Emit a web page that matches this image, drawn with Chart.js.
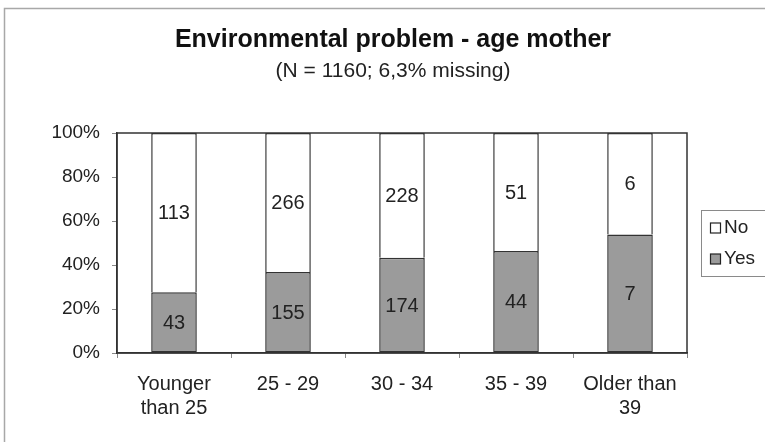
<!DOCTYPE html>
<html>
<head>
<meta charset="utf-8">
<script src="https://cdn.jsdelivr.net/npm/chart.js@4/dist/chart.umd.min.js"></script>
<style>
  html, body { margin: 0; padding: 0; background: #fff; }
  #wrap { width: 765px; height: 442px; position: relative; }
</style>
</head>
<body>
<div id="wrap"><canvas id="c" width="765" height="442"></canvas></div>
<script>
// Age groups of the mother
const categories = [["Younger", "than 25"], "25 - 29", "30 - 34", "35 - 39", ["Older than", "39"]];
// Number of respondents reporting an environmental problem
const yesCounts = [43, 155, 174, 44, 7];
const noCounts = [113, 266, 228, 51, 6];
// Percentage axis ticks
const yTicks = [0, 20, 40, 60, 80, 100];

const seriesNames = ["Yes", "No"];
const titleText = 'Environmental problem - age mother';
const subtitleText = '(N = 1160; 6,3% missing)';
const FONT = "'Liberation Sans', Arial, sans-serif";

// 100% stacked shares derived from the counts
const totals = yesCounts.map((v, i) => v + noCounts[i]);
const yesPct = yesCounts.map((v, i) => v / totals[i] * 100);
const noPct = noCounts.map((v, i) => v / totals[i] * 100);

const frameAndBackground = {
  id: 'frameAndBackground',
  beforeDraw(chart) {
    const ctx = chart.ctx;
    ctx.save();
    ctx.fillStyle = '#ffffff';
    ctx.fillRect(0, 0, chart.width, chart.height);
    ctx.strokeStyle = '#a8a8a8';
    ctx.lineWidth = 1.5;
    ctx.strokeRect(4.5, 8.5, 900, 600);
    ctx.restore();
  }
};

// Heading and sample note, centred over the plot
const heading = {
  id: 'heading',
  afterDraw(chart) {
    const ctx = chart.ctx;
    ctx.save();
    ctx.textAlign = 'center';
    ctx.textBaseline = 'middle';
    ctx.fillStyle = '#111';
    ctx.font = 'bold 25px ' + FONT;
    ctx.fillText(titleText, 393, 40);
    ctx.fillStyle = '#222';
    ctx.font = '21px ' + FONT;
    ctx.fillText(subtitleText, 393, 71);
    ctx.restore();
  }
};

const plotBox = {
  id: 'plotBox',
  afterDatasetsDraw(chart) {
    const { ctx, chartArea: a } = chart;
    ctx.save();
    ctx.strokeStyle = '#333';
    ctx.lineWidth = 1.5;
    ctx.strokeRect(a.left, a.top, a.right - a.left, a.bottom - a.top);
    ctx.restore();
  }
};

// Counts written in the middle of each segment
const segmentLabels = {
  id: 'segmentLabels',
  afterDatasetsDraw(chart) {
    const ctx = chart.ctx;
    ctx.save();
    ctx.font = '20px ' + FONT;
    ctx.fillStyle = '#222';
    ctx.textAlign = 'center';
    ctx.textBaseline = 'middle';
    chart.data.datasets.forEach((ds, di) => {
      const meta = chart.getDatasetMeta(di);
      meta.data.forEach((el, i) => {
        const y = (el.y + el.base) / 2;
        ctx.fillText(String(ds.counts[i]), el.x, y + 1);
      });
    });
    ctx.restore();
  }
};

// Boxed legend at the right: No above Yes
const boxedLegend = {
  id: 'boxedLegend',
  afterDraw(chart) {
    const ctx = chart.ctx;
    const x0 = 701.5, y0 = 210.5;
    ctx.save();
    ctx.strokeStyle = '#8a8a8a';
    ctx.lineWidth = 1;
    ctx.strokeRect(x0, y0, 90, 66);
    const items = [chart.data.datasets[1], chart.data.datasets[0]];
    ctx.font = '19px ' + FONT;
    ctx.textBaseline = 'middle';
    ctx.textAlign = 'left';
    items.forEach((ds, k) => {
      const cy = 228 + k * 31;
      ctx.fillStyle = ds.backgroundColor;
      ctx.fillRect(710.5, cy - 5, 10, 10);
      ctx.strokeStyle = '#222';
      ctx.lineWidth = 1.2;
      ctx.strokeRect(710.5, cy - 5, 10, 10);
      ctx.fillStyle = '#222';
      ctx.fillText(ds.label, 724, cy);
    });
    ctx.restore();
  }
};

new Chart(document.getElementById('c'), {
  type: 'bar',
  data: {
    labels: categories,
    datasets: [
      {
        label: seriesNames[0],
        data: yesPct,
        counts: yesCounts,
        backgroundColor: '#9b9b9b',
        borderColor: '#333',
        borderWidth: 1.5,
        borderSkipped: false,
        barPercentage: 0.4,
        categoryPercentage: 1.0
      },
      {
        label: seriesNames[1],
        data: noPct,
        counts: noCounts,
        backgroundColor: '#ffffff',
        borderColor: '#333',
        borderWidth: 1.5,
        borderSkipped: 'bottom',
        barPercentage: 0.4,
        categoryPercentage: 1.0
      }
    ]
  },
  options: {
    responsive: false,
    animation: false,
    devicePixelRatio: 1,
    layout: { padding: { left: 0, right: 78, top: 133, bottom: 0 } },
    plugins: {
      legend: { display: false },
      tooltip: { enabled: false },
      title: { display: false },
      subtitle: { display: false }
    },
    scales: {
      x: {
        stacked: true,
        afterFit(s) { s.height = 89; },
        grid: { offset: true, drawOnChartArea: false, drawTicks: true, tickLength: 5, color: '#888' },
        border: { color: '#333', width: 1.5 },
        ticks: {
          color: '#222',
          font: { family: FONT, size: 20 },
          padding: 14,
          maxRotation: 0,
          autoSkip: false
        }
      },
      y: {
        stacked: true,
        min: 0,
        max: 100,
        afterFit(s) { s.width = 117; },
        afterBuildTicks(s) { s.ticks = yTicks.map(v => ({ value: v })); },
        grid: { drawOnChartArea: false, drawTicks: true, tickLength: 5, color: '#888' },
        border: { color: '#333', width: 1.5 },
        ticks: {
          color: '#222',
          font: { family: FONT, size: 19 },
          padding: 12,
          callback: v => v + '%'
        }
      }
    }
  },
  plugins: [frameAndBackground, plotBox, segmentLabels, boxedLegend, heading]
});
</script>
</body>
</html>
